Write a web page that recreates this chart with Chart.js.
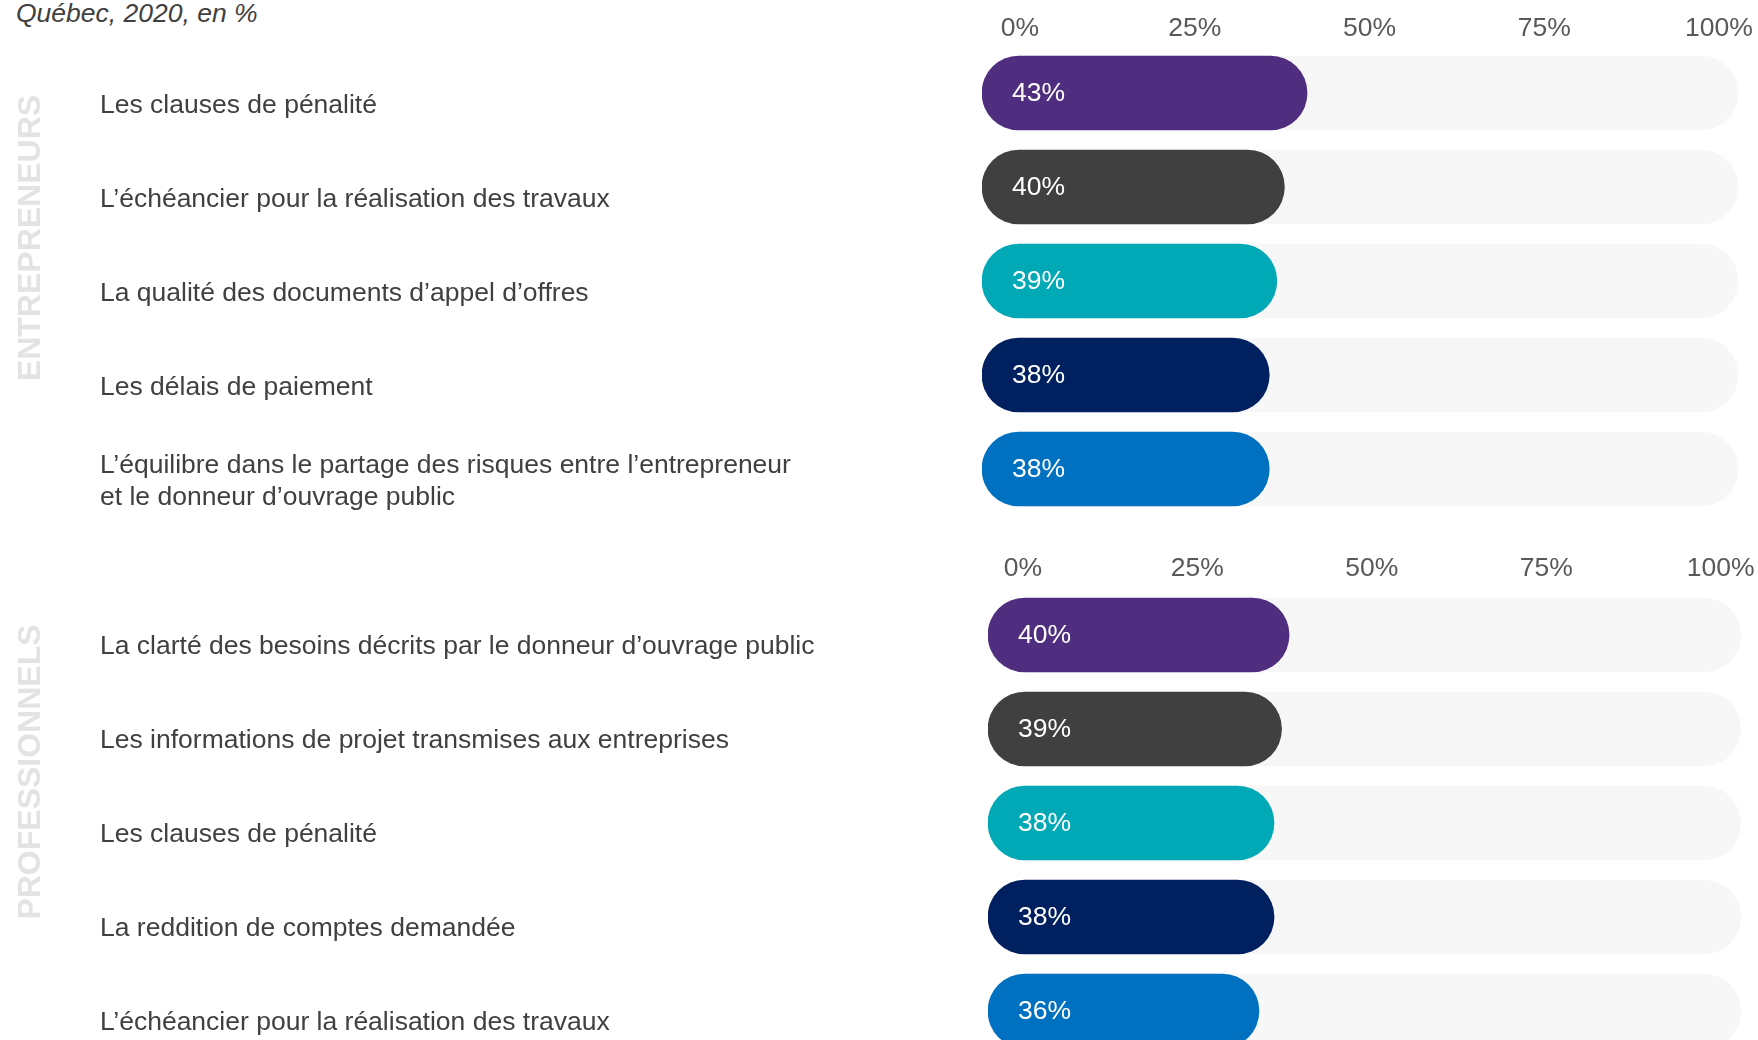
<!DOCTYPE html>
<html lang="fr">
<head>
<meta charset="utf-8">
<title>Québec, 2020, en %</title>
<script src="https://cdn.jsdelivr.net/npm/chart.js@4.4.1/dist/chart.umd.min.js"></script>
<style>
  html, body { margin: 0; padding: 0; background: #fff; width: 1758px; height: 1040px; overflow: hidden; }
  #title { position: absolute; left: 16px; top: -2px; margin: 0; font: italic 26.5px/30px "Liberation Sans", Arial, sans-serif; color: #404040; }
  .box { position: absolute; left: 0; width: 1758px; }
  #topBox { top: 0; height: 520px; }
  #bottomBox { top: 520px; height: 560px; }
</style>
</head>
<body>
<p id="title">Québec, 2020, en %</p>
<div class="box" id="topBox"><canvas id="topChart"></canvas></div>
<div class="box" id="bottomBox"><canvas id="bottomChart"></canvas></div>

<script>
// data
const entLabels = [
  'Les clauses de pénalité',
  'L’échéancier pour la réalisation des travaux',
  'La qualité des documents d’appel d’offres',
  'Les délais de paiement',
  ['L’équilibre dans le partage des risques entre l’entrepreneur', 'et le donneur d’ouvrage public']
];
const entValues = [43, 40, 39, 38, 38];

const proLabels = [
  'La clarté des besoins décrits par le donneur d’ouvrage public',
  'Les informations de projet transmises aux entreprises',
  'Les clauses de pénalité',
  'La reddition de comptes demandée',
  'L’échéancier pour la réalisation des travaux'
];
const proValues = [40, 39, 38, 38, 36];

const trackValues = [100, 100, 100, 100, 100];
const tickValues = [0, 25, 50, 75, 100];
const barColors = ['#4f2d7f', '#404040', '#00a9b5', '#002060', '#0070c0'];

const FONT = '"Liberation Sans", Arial, sans-serif';

// category labels, group name and value labels drawn on the canvas
const textPlugin = {
  id: 'textPlugin',
  afterDatasetsDraw(chart, args, opts) {
    const { ctx, scales: { y } } = chart;
    ctx.save();

    // values inside the bars
    ctx.font = '26.5px ' + FONT;
    ctx.fillStyle = '#ffffff';
    ctx.textAlign = 'left';
    ctx.textBaseline = 'middle';
    chart.getDatasetMeta(0).data.forEach((bar, i) => {
      ctx.fillText(chart.data.datasets[0].data[i] + '%', bar.base + 30, bar.y + 1);
    });

    // category labels
    ctx.fillStyle = '#404040';
    chart.data.labels.forEach((label, i) => {
      const lines = Array.isArray(label) ? label : [label];
      const yc = y.getPixelForValue(i) + opts.labelShift;
      lines.forEach((line, j) => {
        ctx.fillText(line, 100, yc + (j - (lines.length - 1) / 2) * 32);
      });
    });

    // rotated group name
    ctx.translate(31, opts.groupY);
    ctx.rotate(-Math.PI / 2);
    ctx.font = 'bold 32px ' + FONT;
    ctx.fillStyle = '#e3e3e3';
    ctx.textAlign = 'center';
    ctx.fillText(opts.group, 0, 0);
    ctx.restore();
  }
};

function makeChart(id, labels, values, cfg) {
  return new Chart(document.getElementById(id), {
    type: 'bar',
    data: {
      labels: labels,
      datasets: [
        {
          data: values,
          xAxisID: 'x',
          backgroundColor: barColors,
          borderRadius: 37,
          borderSkipped: false,
          barThickness: 74
        },
        {
          data: trackValues,
          xAxisID: 'x',
          backgroundColor: '#f7f7f7',
          borderRadius: 37,
          borderSkipped: false,
          barThickness: 74
        }
      ]
    },
    options: {
      indexAxis: 'y',
      responsive: true,
      maintainAspectRatio: false,
      animation: false,
      events: [],
      layout: { padding: cfg.padding },
      plugins: {
        legend: { display: false },
        tooltip: { enabled: false },
        textPlugin: { group: cfg.group, groupY: cfg.groupY, labelShift: cfg.labelShift }
      },
      scales: {
        x: { display: false, min: 0, max: 100 },
        xt: {
          type: 'linear',
          position: 'top',
          min: cfg.tickMin,
          max: cfg.tickMax,
          grid: { display: false, drawTicks: false },
          border: { display: false },
          afterBuildTicks: (scale) => { scale.ticks = tickValues.map(v => ({ value: v })); },
          afterFit: (scale) => { scale.height = cfg.axisHeight; },
          ticks: {
            padding: cfg.tickPad,
            color: '#595959',
            font: { family: FONT, size: 26.5 },
            callback: (v) => v + '%'
          }
        },
        y: {
          grid: { display: false, drawTicks: false },
          border: { display: false },
          ticks: { display: false },
          afterFit: (scale) => { scale.width = cfg.yWidth; }
        }
      },
      datasets: { bar: { grouped: false } }
    },
    plugins: [textPlugin]
  });
}

makeChart('topChart', entLabels, entValues, {
  padding: { left: 100, right: 20, top: 0, bottom: 4 },
  axisHeight: 46, tickPad: 1, tickMin: -5.44, tickMax: 102.72,
  yWidth: 882, group: 'ENTREPRENEURS', groupY: 238, labelShift: 13
});

makeChart('bottomChart', proLabels, proValues, {
  padding: { left: 100, right: 17, top: 0, bottom: 22 },
  axisHeight: 68, tickPad: 3, tickMin: -5.01, tickMax: 102.88,
  yWidth: 888, group: 'PROFESSIONNELS', groupY: 252, labelShift: 12
});
</script>
</body>
</html>
